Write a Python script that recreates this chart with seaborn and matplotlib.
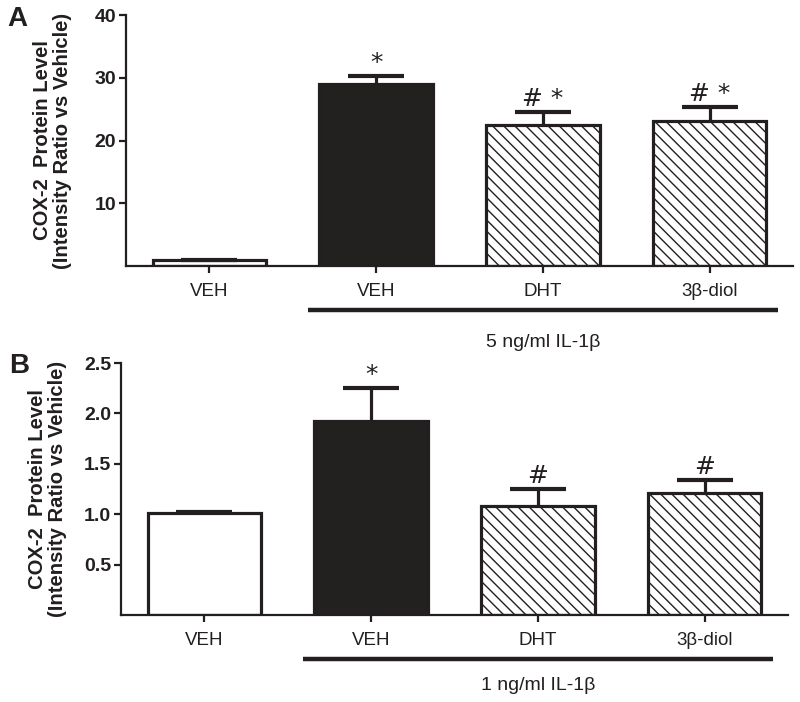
import numpy as np
import pandas as pd
import matplotlib
matplotlib.use('Agg')
import matplotlib.pyplot as plt
import matplotlib.transforms as mtransforms
import seaborn as sns

# data
keys = ['veh0', 'veh1', 'dht', 'diol']
tick_labels = ['VEH', 'VEH', 'DHT', '3β-diol']

a_mean = [1.0, 29.0, 22.4, 23.1]
a_sem = [0.0, 1.2, 2.1, 2.2]
a_marks = ['', '*', '# *', '# *']
a_ticks = [10, 20, 30, 40]

b_mean = [1.01, 1.92, 1.08, 1.21]
b_sem = [0.01, 0.33, 0.17, 0.13]
b_marks = ['', '*', '#', '#']
b_ticks = [0.5, 1.0, 1.5, 2.0, 2.5]

ink = '#231f20'
fills = ['white', ink, 'white', 'white']
hatches = ['', '', '\\\\\\', '\\\\\\']

sns.set_style('ticks')
plt.rcParams['font.family'] = ['Liberation Sans', 'DejaVu Sans']
plt.rcParams['hatch.linewidth'] = 1.0
plt.rcParams['hatch.color'] = ink

fig = plt.figure(figsize=(8, 7.02), dpi=100)


def panel(rect, mean, sem, marks, yticks, ylim, letter, letter_xy, dose, dose_y):
    ax = fig.add_axes(rect)
    df = pd.DataFrame({'key': keys, 'mean': mean})
    sns.barplot(data=df, x='key', y='mean', hue='key', order=keys,
                palette=dict(zip(keys, fills)), width=0.68, errorbar=None,
                edgecolor=ink, linewidth=2.3, legend=False, ax=ax)
    for p, h in zip(ax.patches, hatches):
        p.set_hatch(h)
    # upper error bars only (hide the lower cap sitting on the bar top)
    eb = ax.errorbar(range(len(keys)), mean, yerr=[np.zeros(len(sem)), sem], fmt='none',
                     ecolor=ink, elinewidth=2.3, capsize=20, capthick=3, zorder=3)
    eb[1][0].set_visible(False)
    for i, m in enumerate(marks):
        if m:
            ax.annotate(m, (i, mean[i] + sem[i]), xytext=(0, 1), textcoords='offset points',
                        ha='center', va='bottom', fontsize=18, color=ink,
                        family=['DejaVu Sans'])
    ax.set_xlim(-0.5, 3.5)
    ax.set_ylim(*ylim)
    ax.set_yticks(yticks)
    ax.set_yticklabels([f'{t:g}' if t >= 10 else f'{t:.1f}' for t in yticks],
                       fontweight='bold', fontsize=14, color=ink)
    ax.set_xticks(range(len(keys)))
    ax.set_xticklabels(tick_labels, fontsize=13.5, color=ink)
    ax.set_xlabel('')
    ax.set_ylabel('COX-2  Protein Level\n(Intensity Ratio vs Vehicle)', fontweight='bold',
                  fontsize=14.6, color=ink, linespacing=1.05, va='center')
    ax.yaxis.set_label_coords(-0.11, 0.5)
    sns.despine(ax=ax)
    for s in ['left', 'bottom']:
        ax.spines[s].set_linewidth(1.6)
        ax.spines[s].set_color(ink)
    ax.tick_params(direction='out', length=5, width=1.6, color=ink)
    ax.tick_params(axis='x', pad=7)
    ax.tick_params(axis='y', pad=2)

    # treatment bracket under the three IL-1b groups
    trans = mtransforms.blended_transform_factory(ax.transData, ax.transAxes)
    ax.plot([0.59, 3.41], [-0.175, -0.175], transform=trans, color=ink, lw=3.2,
            clip_on=False, solid_capstyle='butt')
    ax.text(2.0, dose_y, dose, transform=trans, ha='center', va='center',
            fontsize=14, color=ink)
    fig.text(letter_xy[0], letter_xy[1], letter, fontsize=20, fontweight='bold',
             color=ink, va='top', ha='left')
    return ax


panel([126 / 800, 1 - 266 / 702, 667 / 800, 251 / 702], a_mean, a_sem, a_marks,
      a_ticks, (0, 40), 'A', (7 / 800, 1 - 6 / 702), '5 ng/ml IL-1β', -0.303)
panel([121 / 800, 1 - 615 / 702, 667 / 800, 252 / 702], b_mean, b_sem, b_marks,
      b_ticks, (0, 2.5), 'B', (9 / 800, 1 - 353 / 702), '1 ng/ml IL-1β', -0.28)

fig.savefig('out.png', dpi=100, facecolor='white')
